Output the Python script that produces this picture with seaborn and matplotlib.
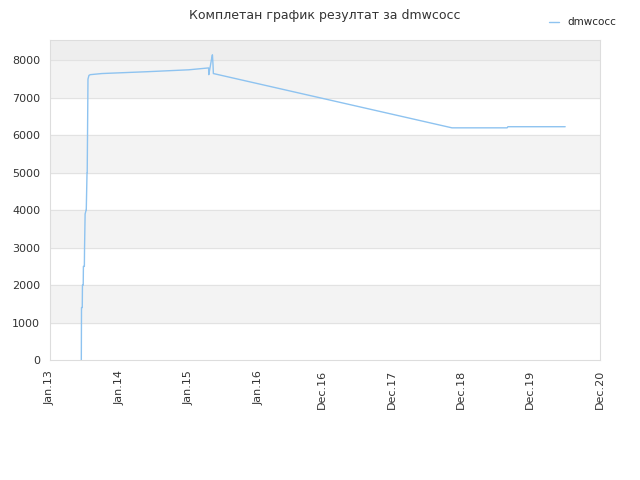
import seaborn as sns
import pandas as pd
import matplotlib.pyplot as plt
import matplotlib.dates as mdates

dates = ['2013-06-15', '2013-06-16', '2013-06-20', '2013-06-21', '2013-06-25', '2013-06-26',
         '2013-07-01', '2013-07-02', '2013-07-05', '2013-07-10', '2013-07-11', '2013-07-15',
         '2013-07-16', '2013-07-20', '2013-07-25', '2013-08-01', '2013-10-01',
         '2014-06-01', '2015-01-01', '2015-04-15', '2015-04-16', '2015-05-01', '2015-05-05',
         '2015-05-08', '2015-05-10', '2018-10-15', '2019-08-01', '2019-08-05', '2020-06-01']
values = [0, 1400, 1400, 2000, 2000, 2500, 2500, 3000, 3900, 4000, 4000, 5000,
          5000, 7500, 7600, 7620, 7650, 7700, 7750, 7800, 7620, 8050, 8150,
          7900, 7650, 6200, 6200, 6230, 6230]

df = pd.DataFrame({'date': pd.to_datetime(dates), 'value': values})

sns.set_style('white')
plt.rcParams['font.family'] = ['DejaVu Sans']
fig, ax = plt.subplots(figsize=(6.4, 4.8), dpi=100)
fig.subplots_adjust(left=0.078, right=0.9375, top=0.917, bottom=0.25)

for lo in range(1000, 8000, 2000):
    ax.axhspan(lo, lo + 1000, color='#f3f3f3', zorder=0)
ax.axhspan(8000, 8550, color='#eeeeee', zorder=0)
for y in range(1000, 9000, 1000):
    ax.axhline(y, color='#e2e2e2', lw=0.8, zorder=0)

sns.lineplot(data=df, x='date', y='value', ax=ax, color='#8ec3f0', lw=1,
             label='dmwcocc', sort=False)

ticks = pd.to_datetime(['2013-01-01', '2014-01-01', '2015-01-01', '2016-01-01', '2016-12-01',
                        '2017-12-01', '2018-12-01', '2019-12-01', '2020-12-01'])
ax.set_xticks(ticks)
ax.xaxis.set_major_formatter(mdates.DateFormatter('%b.%y'))
plt.setp(ax.get_xticklabels(), rotation=90, fontsize=8, color='#333333')
ax.tick_params(axis='y', labelsize=8, colors='#333333')
ax.set_xlim(ticks[0], ticks[-1])
ax.set_ylim(0, 8550)
ax.set_yticks(range(0, 9000, 1000))
ax.set_xlabel('')
ax.set_ylabel('')
for s in ax.spines.values():
    s.set_color('#dddddd')
ax.set_title('Комплетан график резултат за dmwcocc', fontsize=9, color='#333333', pad=15)
ax.legend(loc='upper left', bbox_to_anchor=(0.89, 1.1), frameon=False, fontsize=7.5,
          handlelength=1)
fig.savefig('out.png')
